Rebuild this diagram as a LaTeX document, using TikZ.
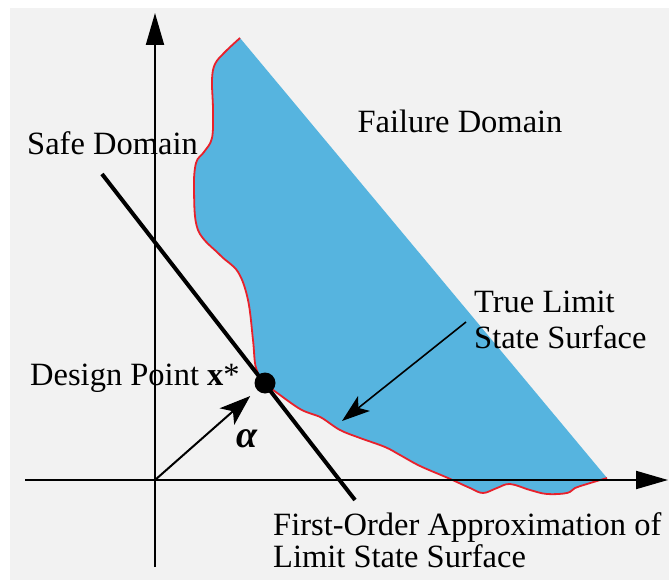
\documentclass[tikz,border=0pt]{standalone}
\usepackage{fontspec}
\setmainfont{Liberation Serif}
\usetikzlibrary{arrows.meta}
\definecolor{bggray}{HTML}{F2F2F2}
\definecolor{failblue}{HTML}{56B4DF}
\definecolor{edgered}{HTML}{E8212B}
\begin{document}
\begin{tikzpicture}[x=1pt,y=-1pt,
    axis/.style={line width=2pt, -{Triangle[length=32pt,width=18pt]}},
    label/.style={font=\fontsize{32.5}{38}\selectfont, inner sep=0pt},
    pointer/.style={line width=2pt, -{Stealth[length=31pt,width=22pt,inset=8pt]}}]
  \useasboundingbox (0,0) rectangle (669,580);
  \fill[bggray] (10,8) rectangle (669,580);
  % failure domain, bounded by the true limit state surface
  \draw[edgered, line width=1.8pt, fill=failblue] plot[smooth, tension=0.6] coordinates {(240,38) (225,52) (215,64) (212,80) (213,110) (212,138) (204,152) (196,163) (194,190) (198,230) (220,255) (238,272) (248,300) (253,340) (256,368) (265,383) (280,395) (300,409) (312,414) (322,418) (340,430) (360,438) (385,447) (400,455) (420,466) (448,478) (470,488) (483,493) (497,488) (510,484) (530,490) (547,494) (567,493) (575,488) (587,484) (607,478)};
  % axes
  \coordinate (origin) at (155,480);
  \coordinate (xstart) at (25,480);
  \coordinate (xend) at (668,480);
  \coordinate (ystart) at (155,567);
  \coordinate (yend) at (155,13);
  \draw[axis] (xstart) -- (xend);
  \draw[axis] (ystart) -- (yend);
  % first-order approximation
  \coordinate (forma) at (102,174);
  \coordinate (formb) at (355,500);
  \draw[line width=4pt] (forma) -- (formb);
  \node (dp) [circle, fill=black, minimum size=21pt, inner sep=0pt] at (265,383) {};
  \draw[pointer, shorten >=9pt] (origin) -- (dp);
  \coordinate (tlsfrom) at (466,322);
  \coordinate (tlsto) at (342,421);
  \draw[pointer, line width=1.6pt, -{Stealth[length=28pt,width=19pt,inset=7pt]}] (tlsfrom) -- (tlsto);
  % labels
  \node[label, anchor=base] (fail) at (460,133) {Failure Domain};
  \node[label, anchor=base west] (safe) at (27,155) {Safe Domain};
  \node[label, anchor=base west] (tls1) at (474,312) {True Limit};
  \node[label, anchor=base west] (tls2) at (474,348) {State Surface};
  \node[label, anchor=base west] (dplbl) at (30,385) {Design Point \textbf{x}*};
  \node[label, font=\fontsize{38}{40}\selectfont] (alphalbl) at (247,439) {\textbf{\textit{α}}};
  \node[label, anchor=base west] (form1) at (273,535) {First-Order Approximation of};
  \node[label, anchor=base west] (form2) at (273,567) {Limit State Surface};
\end{tikzpicture}
\end{document}
